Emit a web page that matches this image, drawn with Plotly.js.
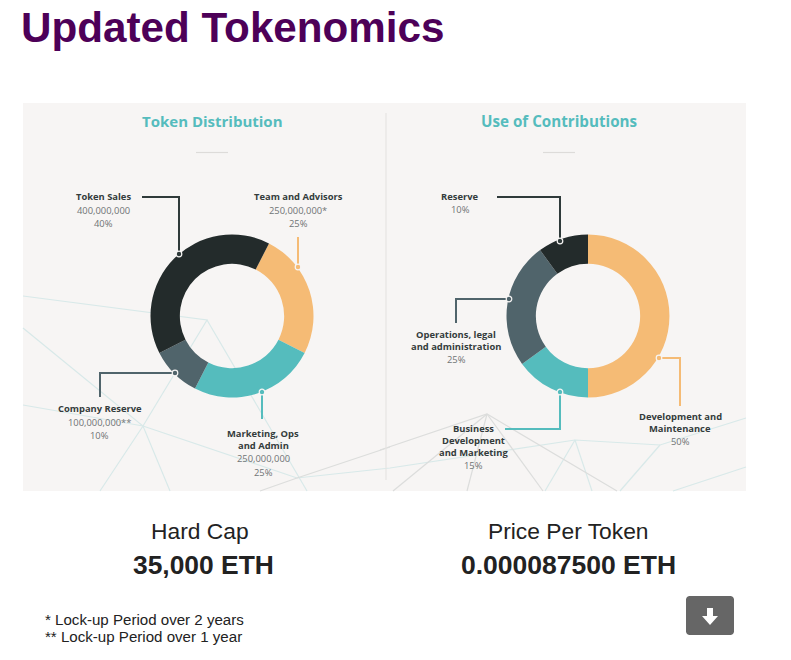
<!DOCTYPE html>
<html><head><meta charset="utf-8">
<script src="https://cdn.plot.ly/plotly-3.0.1.min.js"></script>
<style>html,body{margin:0;padding:0;background:#fff}#c{width:791px;height:660px}</style>
</head><body><div id="c"></div>
<script>
const W=791,H=660;
const distLabels=["Team and Advisors","Marketing, Ops and Admin","Company Reserve","Token Sales"];
const distValues=[250000000,250000000,100000000,400000000];
const useLabels=["Development and Maintenance","Business Development and Marketing","Operations, legal and administration","Reserve"];
const useValues=[50,15,25,10];
const sliceColors=["#f5bb75","#55bcbd","#50646b","#232b2b"];
const px=x=>x/W, py=y=>1-y/H;

const pies=[
 {labels:distLabels,values:distValues,rotation:27,cx:232,cy:316,name:"Token Distribution"},
 {labels:useLabels,values:useValues,rotation:0,cx:588,cy:316,name:"Use of Contributions"}
];
const R=81.5;
const data=pies.map(p=>({type:"pie",labels:p.labels,values:p.values,name:p.name,hole:0.64,sort:false,
 direction:"clockwise",rotation:p.rotation,textinfo:"none",hoverinfo:"label+percent",showlegend:false,
 marker:{colors:sliceColors,line:{width:0}},
 domain:{x:[px(p.cx-R),px(p.cx+R)],y:[py(p.cy+R),py(p.cy-R)]}}));

// decorative background web
const webTeal=[
 [[23,296],[207,320],[143,426],[100,491]],
 [[23,328],[143,426],[170,491]],
 [[207,320],[307,491]],
 [[23,405],[143,426],[297,478],[390,468],[575,440],[660,445],[746,418]],
 [[575,440],[545,491]],[[575,440],[592,491]],[[660,445],[620,491]],[[746,467],[673,491]]
];
const webGray=[
 [[390,447],[297,478],[260,491]],
 [[380,450],[487,414],[617,491]],
 [[487,414],[393,491]],[[487,414],[467,491]],[[487,414],[543,491]]
];
// leader lines: points, colour
const leaders=[
 {pts:[[142,197],[179,197],[179,254]],c:"#2f3a3a"},
 {pts:[[298,237],[298,267]],c:"#f5bb75"},
 {pts:[[262,419],[262,392]],c:"#55bcbd"},
 {pts:[[100,397],[100,373],[175,373]],c:"#50646b"},
 {pts:[[497,197],[560,197],[560,241]],c:"#2f3a3a"},
 {pts:[[456,323],[456,299],[509,299]],c:"#50646b"},
 {pts:[[680,406],[680,358],[659,358]],c:"#f5bb75"},
 {pts:[[505,429],[560,429],[560,392]],c:"#55bcbd"}
];
const pathOf=pts=>pts.map((q,i)=>(i?"L":"M")+px(q[0])+","+py(q[1])).join(" ");
const shapes=[];
const line=(pts,c,w,layer)=>shapes.push({type:"path",xref:"paper",yref:"paper",path:pathOf(pts),line:{color:c,width:w},layer:layer||"below"});
shapes.push({type:"rect",xref:"paper",yref:"paper",x0:px(23),x1:px(746),y0:py(491),y1:py(103),fillcolor:"#f7f5f4",line:{width:0},layer:"below"});
webTeal.forEach(l=>line(l,"#d8e9e9",1.2));
webGray.forEach(l=>line(l,"#dcdddc",1.2));
line([[386,113],[386,480]],"#e6e4e2",1.2);
line([[196,152.5],[228,152.5]],"#dddbd9",1.2);
line([[543,152.5],[575,152.5]],"#dddbd9",1.2);
leaders.forEach(l=>{
 line(l.pts,l.c,2,"above");
});
const dots=[[179,254,"#2f3a3a"],[298,267,"#f5bb75"],[262,392,"#55bcbd"],[175,373,"#50646b"],[560,241,"#2f3a3a"],[509,299,"#50646b"],[659,358,"#f5bb75"],[560,392,"#55bcbd"]];
dots.forEach(d=>shapes.push({type:"circle",xref:"paper",yref:"paper",x0:px(d[0]-2.8),x1:px(d[0]+2.8),y0:py(d[1]+2.8),y1:py(d[1]-2.8),fillcolor:d[2],line:{color:"#f7f5f4",width:1.2},layer:"above"}));
// download button
shapes.push({type:"path",xref:"paper",yref:"paper",layer:"above",fillcolor:"#666666",line:{width:0},
 path:pathOf([[689,596],[731,596],[733,597],[734,599],[734,632],[733,634],[731,635],[689,635],[687,634],[686,632],[686,599],[687,597]])+" Z"});
shapes.push({type:"path",xref:"paper",yref:"paper",layer:"above",fillcolor:"#ffffff",line:{width:0},
 path:pathOf([[707,608],[713,608],[713,616],[718,616],[710,625],[702,616],[707,616]])+" Z"});

const annotations=[];
const chartFont='"Open Sans", sans-serif', pageFont='"Liberation Sans", Arial, sans-serif';
const txt=(t,x,y,size,color,family,anchor)=>annotations.push({text:t,xref:"paper",yref:"paper",x:px(x),y:py(y),xanchor:anchor||"center",yanchor:"middle",showarrow:false,
 font:{size:size,color:color,family:family},borderpad:0,align:anchor||"center"});
const dark="#343c3c",mid="#6f7474";
const labelRows=[
 [["<b>Token Sales</b>",104,196.3],["400,000,000",104,210.3],["40%",104,223.5]],
 [["<b>Team and Advisors</b>",298,196.3],["250,000,000*",298,210.3],["25%",298,223.5]],
 [["<b>Company Reserve</b>",100,408.3],["100,000,000**",100,422.3],["10%",100,435.5]],
 [["<b>Marketing, Ops</b>",263,433.3],["<b>and Admin</b>",263,445.3],["250,000,000",263,458.5],["25%",263,472]],
 [["<b>Reserve</b>",460,196.3],["10%",460,210]],
 [["<b>Operations, legal</b>",456,334.3],["<b>and administration</b>",456,346.3],["25%",456,359.5]],
 [["<b>Development and</b>",680,416.3],["<b>Maintenance</b>",680,428.3],["50%",680,441.5]],
 [["<b>Business</b>",474,428],["<b>Development</b>",474,440],["<b>and Marketing</b>",474,452],["15%",474,465.5]]
];
labelRows.forEach(g=>g.forEach(r=>txt(r[0],r[1],r[2],9.4,r[0].startsWith("<b>")?dark:mid,chartFont)));
txt("<b>Token Distribution</b>",212,120.5,15,"#55bcbd",chartFont);
txt("<b>Use of Contributions</b>",559,120.5,15.2,"#55bcbd",chartFont);
txt("Hard Cap",200,530.5,22.8,"#222222",pageFont);
txt("<b>35,000 ETH</b>",203,565,26.4,"#222222",pageFont);
txt("Price Per Token",568,530.5,22.8,"#222222",pageFont);
txt("<b>0.000087500 ETH</b>",568,565,26.5,"#222222",pageFont);
txt("* Lock-up Period over 2 years",44,619,15.1,"#222222",pageFont,"left");
txt("** Lock-up Period over 1 year",44,636,15.1,"#222222",pageFont,"left");

Plotly.newPlot("c",data,{
 width:W,height:H,margin:{l:0,r:0,t:0,b:0,pad:0},paper_bgcolor:"#ffffff",plot_bgcolor:"#ffffff",showlegend:false,
 title:{text:"<b>Updated Tokenomics</b>",x:px(21),xanchor:"left",xref:"paper",y:py(27),yanchor:"middle",yref:"paper",automargin:false,
  font:{size:42.2,color:"#4d0058",family:pageFont}},
 shapes:shapes,annotations:annotations
},{displayModeBar:false,responsive:false});
</script></body></html>
